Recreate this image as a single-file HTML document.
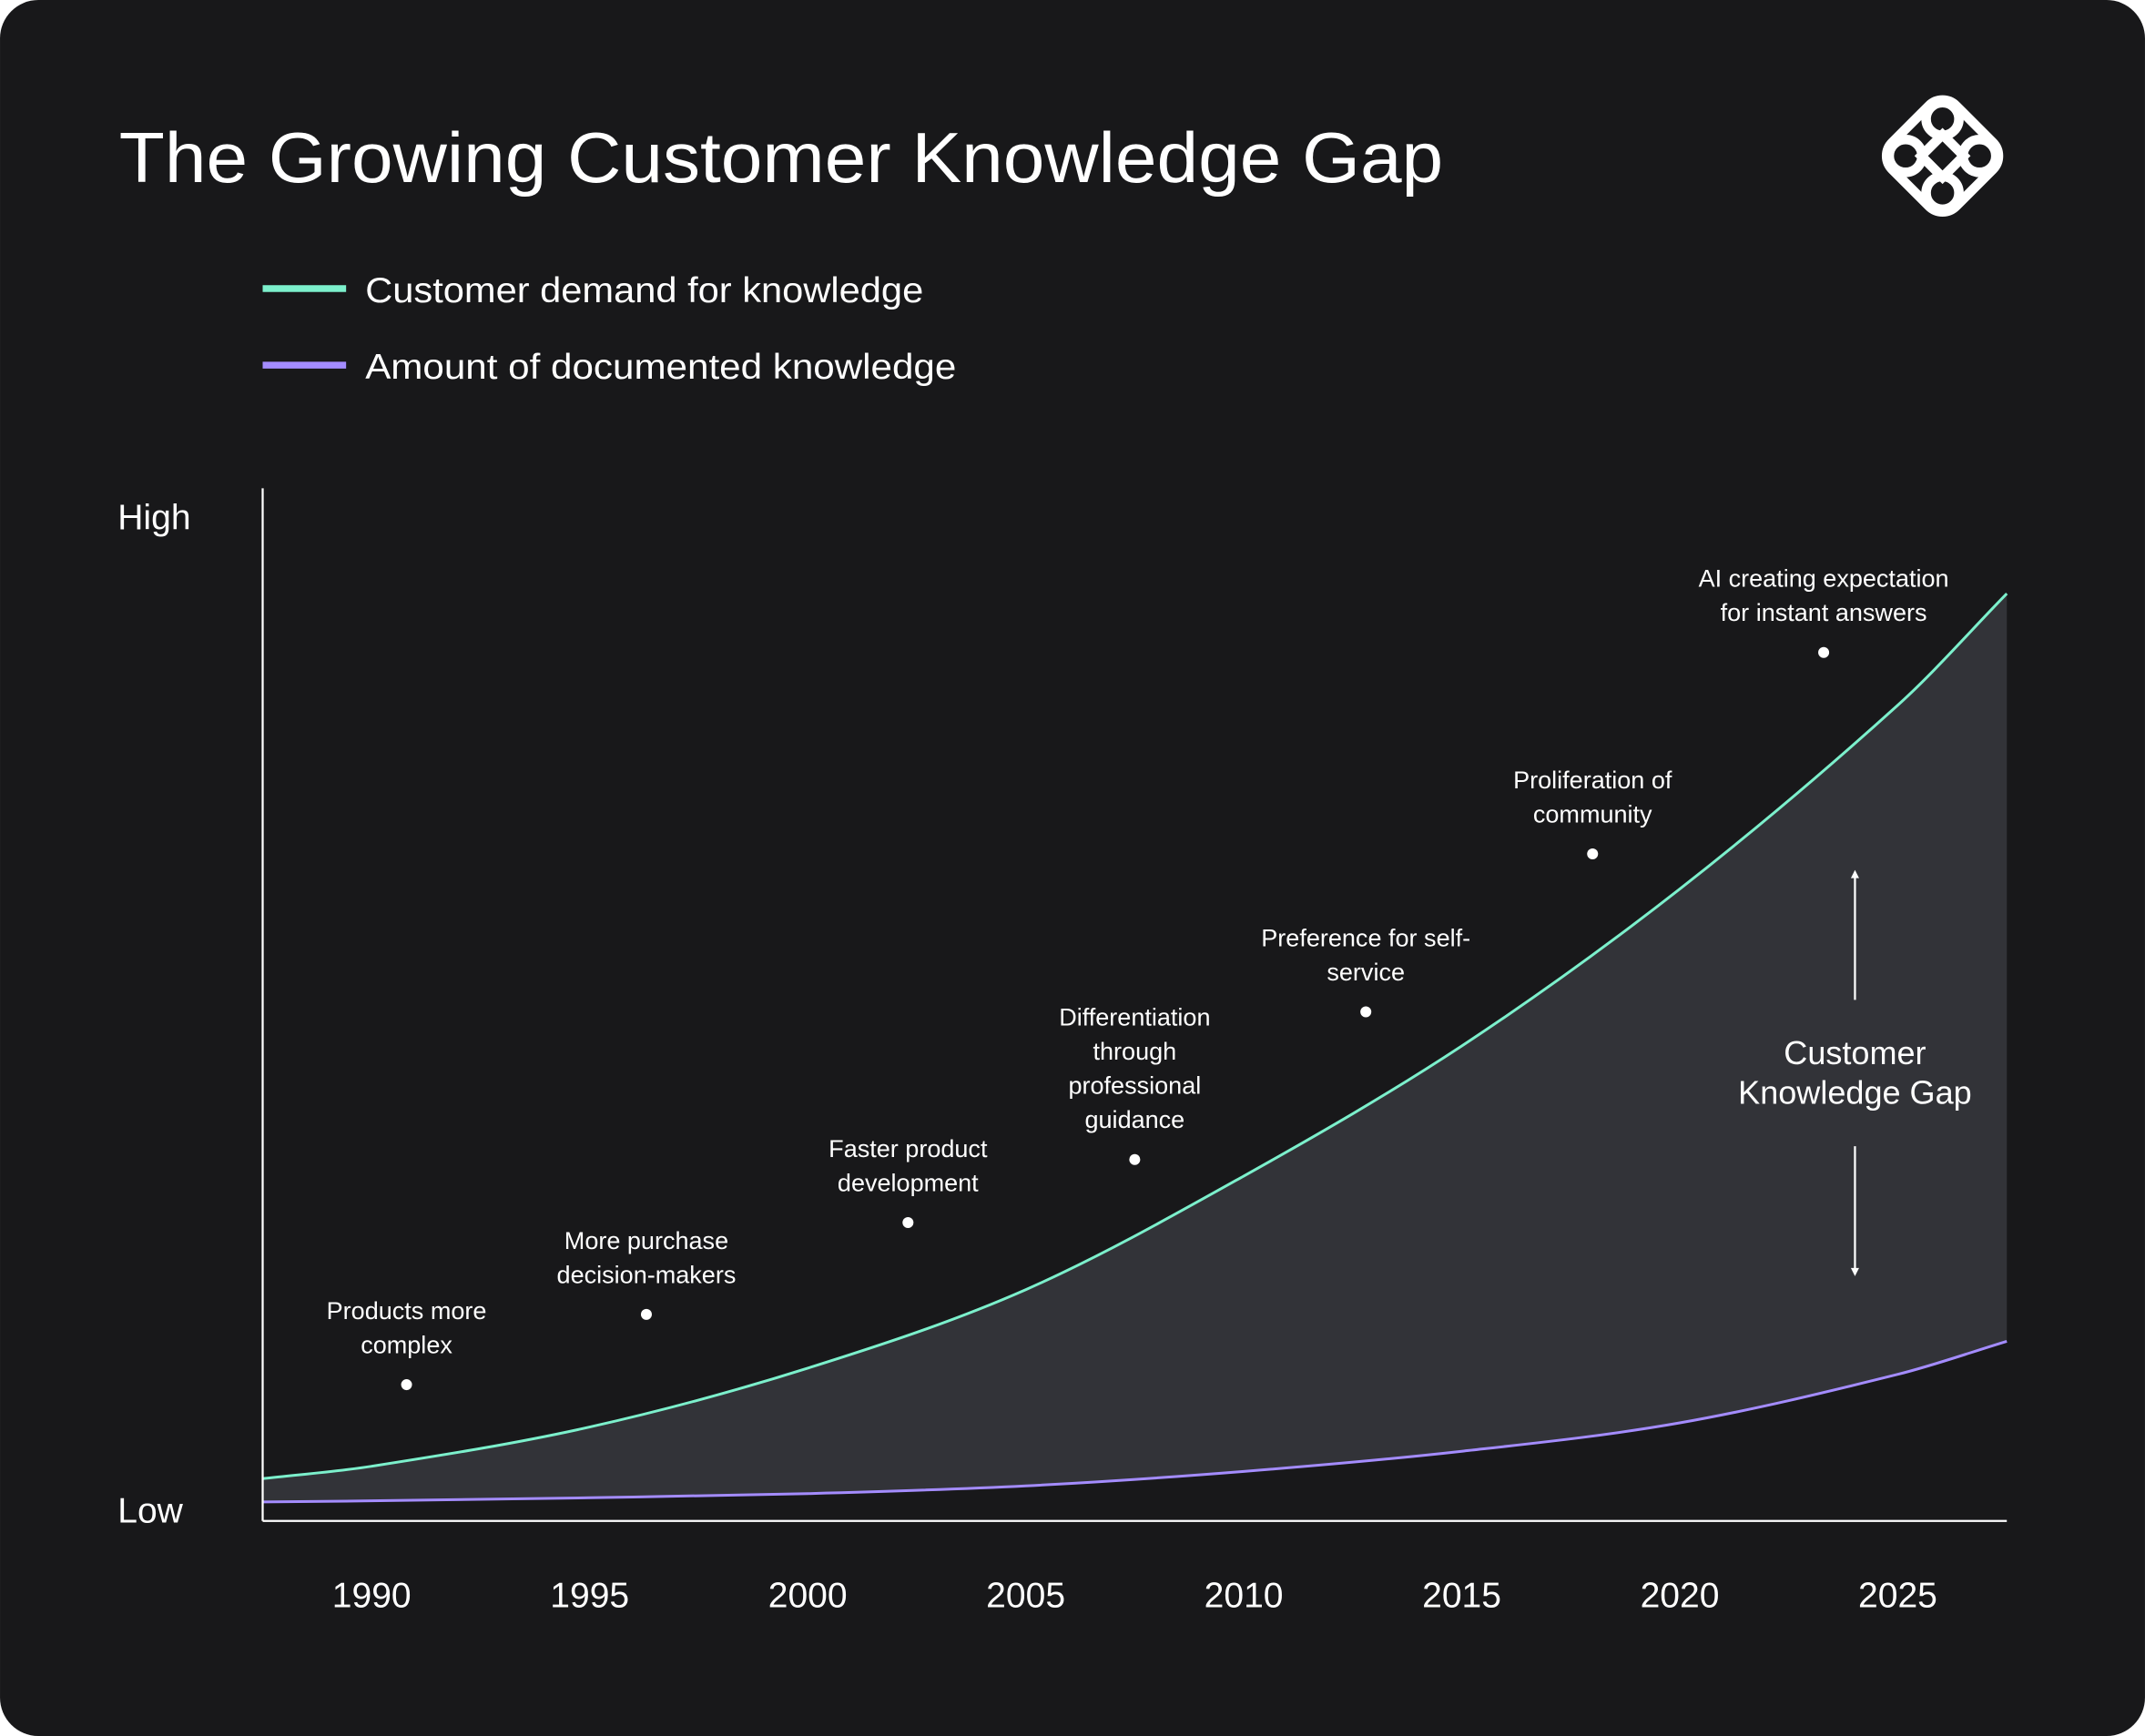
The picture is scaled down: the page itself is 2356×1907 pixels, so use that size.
<!DOCTYPE html>
<html><head><meta charset="utf-8"><style>
html,body{margin:0;padding:0;background:#fff;}
svg{display:block;font-family:"Liberation Sans",sans-serif;}
</style></head><body>
<svg id="chart" width="2356" height="1907" viewBox="0 0 1568 1269.2" xmlns="http://www.w3.org/2000/svg">
<rect x="0" y="0" width="1568" height="1269.2" rx="28" fill="#18181a"/>
<text x="87" y="133" font-size="52" fill="#fff" textLength="968" lengthAdjust="spacingAndGlyphs">The Growing Customer Knowledge Gap</text>
<g fill="none" stroke="#fff" stroke-width="7">
  <rect x="1387" y="81" width="66" height="66" rx="14" transform="rotate(45 1420 114)"/>
  <circle cx="1420" cy="87" r="12"/><circle cx="1420" cy="141" r="12"/>
  <circle cx="1393" cy="114" r="12"/><circle cx="1447" cy="114" r="12"/>
  <rect x="1409" y="103" width="22" height="22" transform="rotate(45 1420 114)"/>
</g>
<g>
  <line x1="192" y1="211" x2="253" y2="211" stroke="#7cf0cc" stroke-width="5"/>
  <text x="267" y="221" font-size="26" fill="#fff" textLength="408" lengthAdjust="spacingAndGlyphs">Customer demand for knowledge</text>
  <line x1="192" y1="267" x2="253" y2="267" stroke="#a48cff" stroke-width="5"/>
  <text x="267" y="277" font-size="26" fill="#fff" textLength="432" lengthAdjust="spacingAndGlyphs">Amount of documented knowledge</text>
</g>
<text x="86" y="387" font-size="26" fill="#fff">High</text>
<text x="86" y="1113" font-size="26" fill="#fff">Low</text>
<g id="plot"></g>
<g fill="#fff" font-size="24" text-anchor="middle">
  <text x="1356" y="778">Customer</text>
  <text x="1356" y="807">Knowledge Gap</text>
</g>
<g stroke="#fff" stroke-width="1.5" fill="#fff">
  <line x1="1356" y1="731" x2="1356" y2="640"/><path d="M1353 642 L1356 636 L1359 642 Z" stroke="none"/>
  <line x1="1356" y1="838" x2="1356" y2="929"/><path d="M1353 927 L1356 933 L1359 927 Z" stroke="none"/>
</g>
</svg>
<script>
const years = [1987.5, 1990, 1995, 2000, 2005, 2010, 2015, 2020, 2025, 2027.5];
const demand = [4.1, 5.3, 9.1, 14.8, 22.4, 33.4, 46.0, 61.2, 79.0, 89.8];
const documented = [1.85, 1.95, 2.25, 2.65, 3.4, 4.8, 6.75, 9.5, 14.2, 17.4];
const tickYears = [1990, 1995, 2000, 2005, 2010, 2015, 2020, 2025];
const tickLabels = ["1990", "1995", "2000", "2005", "2010", "2015", "2020", "2025"];
const noteYears = [1990.8, 1996.3, 2002.3, 2007.5, 2012.8, 2018.0, 2023.3];
const noteValues = [13.2, 20.0, 28.9, 35.0, 49.3, 64.6, 84.1];
const noteTexts = [["Products more","complex"],["More purchase","decision-makers"],["Faster product","development"],["Differentiation","through","professional","guidance"],["Preference for self-","service"],["Proliferation of","community"],["AI creating expectation","for instant answers"]];

const X0=192, X1=1467, Y0=1112, Y1=357, yrMin=1987.5, yrMax=2027.5;
function xs(y){return X0+(y-yrMin)/(yrMax-yrMin)*(X1-X0);}
function ys(v){return Y0-v/100*(Y0-Y1);}
const NS="http://www.w3.org/2000/svg";
const plot=document.getElementById('plot');
function mk(t,a,p){const e=document.createElementNS(NS,t);for(const k in a)e.setAttribute(k,a[k]);(p||plot).appendChild(e);return e;}
function slopes(X,Y){
  const n=X.length,m=[];
  for(let i=0;i<n;i++){
    const a=Math.max(i-1,0),b=Math.min(i+1,n-1);
    m.push((Y[b]-Y[a])/(X[b]-X[a]));
  }
  return m;
}
function smooth(X,Y){
  const m=slopes(X,Y);
  let d="M"+X[0]+" "+Y[0];
  for(let i=0;i<X.length-1;i++){
    const h=(X[i+1]-X[i])/3;
    d+=" C"+(X[i]+h)+" "+(Y[i]+m[i]*h)+" "+(X[i+1]-h)+" "+(Y[i+1]-m[i+1]*h)+" "+X[i+1]+" "+Y[i+1];
  }
  return d;
}
function smoothRev(X,Y){
  const m=slopes(X,Y);
  let d="";
  for(let i=X.length-1;i>0;i--){
    const h=(X[i]-X[i-1])/3;
    d+=" C"+(X[i]-h)+" "+(Y[i]-m[i]*h)+" "+(X[i-1]+h)+" "+(Y[i-1]+m[i-1]*h)+" "+X[i-1]+" "+Y[i-1];
  }
  return d;
}
const px=years.map(xs), pd=demand.map(ys), pp=documented.map(ys);
const dPath=smooth(px,pd), pPath=smooth(px,pp);
const n=px.length;
const area=mk('path',{d:dPath+" L"+px[n-1]+" "+pp[n-1]+smoothRev(px,pp)+" Z",fill:"#323338"});


const l1=mk('path',{d:dPath,fill:"none",stroke:"#7cf0cc","stroke-width":2});


const l2=mk('path',{d:pPath,fill:"none",stroke:"#a48cff","stroke-width":2});


const ya=mk('line',{x1:X0,y1:Y1,x2:X0,y2:Y0,stroke:"#fff","stroke-width":1.5});


const xa=mk('line',{x1:X0,y1:Y0,x2:X1,y2:Y0,stroke:"#fff","stroke-width":1.5});


tickYears.forEach((y,i)=>{
  const t=mk('text',{x:xs(y),y:1175,"font-size":26,fill:"#fff","text-anchor":"middle"});
  t.textContent=tickLabels[i];
  
  
});
noteYears.forEach((y,i)=>{
  const cx=xs(y), cy=ys(noteValues[i]);
  const c=mk('circle',{cx:cx,cy:cy,r:4,fill:"#fff"});
  
  
  const lines=noteTexts[i], k=lines.length;
  lines.forEach((s,j)=>{
    const t=mk('text',{x:cx,y:cy-23-(k-1-j)*25,"font-size":18,fill:"#fff","text-anchor":"middle"});
    t.textContent=s;
    
    
  });
});
</script>
</body></html>
